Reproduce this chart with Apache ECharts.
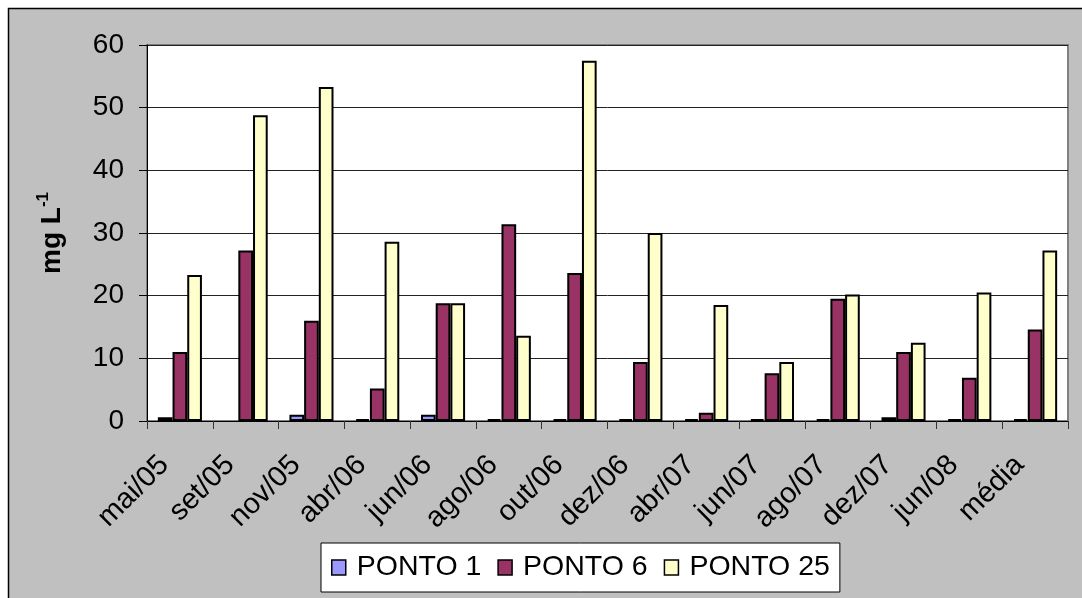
<!DOCTYPE html>
<html>
<head>
<meta charset="utf-8">
<script src="https://cdn.jsdelivr.net/npm/echarts@6/dist/echarts.min.js"></script>
<style>
  html, body { margin: 0; padding: 0; background: #ffffff; }
  #chart { width: 1082px; height: 598px; }
</style>
</head>
<body>
<div id="chart"></div>
<script>
// Sampling dates (month/year) plus the overall mean
const categories = ['mai/05', 'set/05', 'nov/05', 'abr/06', 'jun/06', 'ago/06', 'out/06',
  'dez/06', 'abr/07', 'jun/07', 'ago/07', 'dez/07', 'jun/08', 'média'];

// Concentrations in mg L-1 for each sampling point
const ponto1 = [0.6, null, 1.0, 0.3, 1.0, 0.3, 0.3, 0.3, 0.3, 0.3, 0.3, 0.6, 0.3, 0.3];
const ponto6 = [11.0, 27.2, 16.0, 5.2, 18.8, 31.4, 23.6, 9.4, 1.3, 7.6, 19.5, 11.0, 6.9, 14.6];
const ponto25 = [23.3, 48.8, 53.3, 28.6, 18.8, 13.6, 57.5, 30.0, 18.5, 9.4, 20.2, 12.5, 20.5, 27.2];

const yTicks = { min: 0, max: 60, interval: 10 };

const FONT = "'Liberation Sans', Arial, sans-serif";

const chart = echarts.init(document.getElementById('chart'), null, { renderer: 'canvas' });

function barSeries(name, data, color) {
  return {
    name: name,
    type: 'bar',
    data: data,
    barGap: '0%',
    barCategoryGap: '33%',
    itemStyle: { color: color, borderColor: '#000000', borderWidth: 2 },
    emphasis: { disabled: true }
  };
}

chart.setOption({
  animation: false,
  backgroundColor: '#ffffff',
  textStyle: { fontFamily: FONT },
  graphic: [{
    type: 'rect',
    z: -100,
    silent: true,
    shape: { x: 8.5, y: 8.5, width: 1200, height: 800 },
    style: { fill: '#c0c0c0', stroke: '#000000', lineWidth: 1.5 }
  }],
  grid: {
    left: 147, top: 45, right: 14, bottom: 177,
    show: true,
    backgroundColor: '#ffffff',
    borderColor: '#808080',
    borderWidth: 2
  },
  legend: {
    left: 321, top: 543,
    data: ['PONTO 1', 'PONTO 6', 'PONTO 25'],
    backgroundColor: '#ffffff',
    borderColor: '#000000',
    borderWidth: 1,
    padding: [10, 10],
    itemWidth: 14, itemHeight: 15,
    itemGap: 16,
    icon: 'rect',
    selectedMode: false,
    itemStyle: { borderColor: '#000000', borderWidth: 1.5 },
    textStyle: { fontSize: 28.5, color: '#000000', fontFamily: FONT, padding: [0, 0, 0, 6] }
  },
  xAxis: {
    type: 'category',
    data: categories,
    axisLine: { lineStyle: { color: '#000000', width: 1 } },
    axisTick: { show: true, length: 8, lineStyle: { color: '#333333' } },
    axisLabel: {
      interval: 0, rotate: 45, margin: 24,
      padding: [0, 22, 0, 0],
      fontSize: 29, color: '#000000', fontFamily: FONT
    }
  },
  yAxis: {
    type: 'value',
    min: yTicks.min, max: yTicks.max, interval: yTicks.interval,
    name: '{b|mg L}{s|-1}',
    nameLocation: 'middle',
    nameRotate: 90,
    nameGap: 78,
    nameTextStyle: {
      rich: {
        b: { fontSize: 28, fontWeight: 'bold', color: '#000000', fontFamily: FONT, lineHeight: 34 },
        s: { fontSize: 17, fontWeight: 'bold', color: '#000000', fontFamily: FONT, verticalAlign: 'top', lineHeight: 34 }
      }
    },
    axisLine: { show: true, lineStyle: { color: '#000000', width: 1 } },
    axisTick: { show: true, length: 8, lineStyle: { color: '#000000' } },
    axisLabel: { margin: 23, fontSize: 28, color: '#000000', fontFamily: FONT },
    splitLine: { show: true, lineStyle: { color: '#222222', width: 1 } }
  },
  series: [
    barSeries('PONTO 1', ponto1, '#9999ff'),
    barSeries('PONTO 6', ponto6, '#993366'),
    barSeries('PONTO 25', ponto25, '#ffffcc')
  ]
});
</script>
</body>
</html>
